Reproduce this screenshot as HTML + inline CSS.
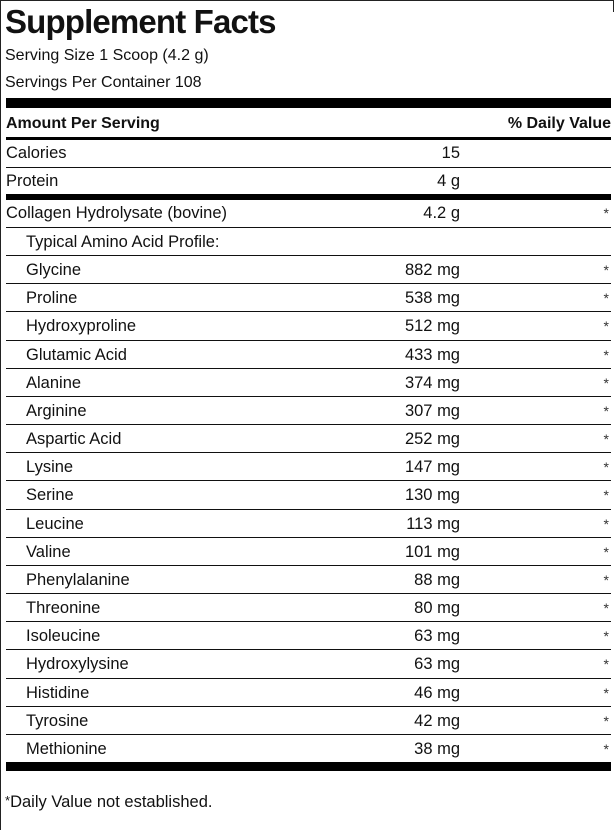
<!DOCTYPE html>
<html>
<head>
<meta charset="utf-8">
<style>
  html,body{margin:0;padding:0;background:#fff;}
  body{width:615px;height:830px;position:relative;overflow:hidden;
       font-family:"Liberation Sans",Arial,sans-serif;color:#111;}
  .a{position:absolute;}
  .bar{position:absolute;left:6px;width:605px;background:#000;}
  .txt{position:absolute;height:20px;line-height:20px;font-size:16.5px;white-space:nowrap;}
  .row{position:absolute;left:6px;width:605px;height:28px;border-top:1px solid #111;}
  .row .n{position:absolute;left:20px;top:4px;height:20px;line-height:20px;font-size:16.5px;white-space:nowrap;}
  .row .v{position:absolute;left:0;width:454px;top:4px;height:20px;line-height:20px;font-size:16.5px;text-align:right;white-space:nowrap;}
  .row .s{position:absolute;left:0;width:603px;top:4px;height:20px;line-height:20px;font-size:14px;text-align:right;color:#333;}
</style>
</head>
<body>
<!-- borders -->
<div class="a" style="left:0;top:0;width:614px;height:1px;background:#222;"></div>
<div class="a" style="left:0;top:0;width:1px;height:830px;background:#222;"></div>
<div class="a" style="left:613px;top:0;width:1px;height:12px;background:#222;"></div>

<div class="txt" style="left:5px;top:2px;height:40px;line-height:40px;font-size:33px;font-weight:bold;letter-spacing:-0.85px;">Supplement Facts</div>
<div class="txt" style="left:5px;top:46px;font-size:16px;">Serving Size 1 Scoop (4.2 g)</div>
<div class="txt" style="left:5px;top:73px;font-size:16px;">Servings Per Container 108</div>

<div class="bar" style="top:98px;height:10px;"></div>
<div class="txt" style="left:6px;top:114px;font-size:16px;font-weight:bold;">Amount Per Serving</div>
<div class="txt" style="left:400px;width:211px;text-align:right;top:114px;font-size:16px;font-weight:bold;">% Daily Value</div>
<div class="bar" style="top:137px;height:3px;"></div>

<div class="txt" style="left:6px;top:143px;">Calories</div>
<div class="txt" style="left:300px;width:160px;text-align:right;top:143px;">15</div>
<div class="bar" style="top:167px;height:1px;background:#111;"></div>
<div class="txt" style="left:6px;top:171px;">Protein</div>
<div class="txt" style="left:300px;width:160px;text-align:right;top:171px;">4 g</div>
<div class="bar" style="top:194px;height:6px;"></div>

<div class="txt" style="left:6px;top:203px;">Collagen Hydrolysate (bovine)</div>
<div class="txt" style="left:300px;width:160px;text-align:right;top:203px;">4.2 g</div>
<div class="txt" style="left:6px;width:603px;text-align:right;top:203px;font-size:14px;color:#333;">*</div>

<div class="row" style="top:227px;"><span class="n">Typical Amino Acid Profile:</span></div>
<div class="row" style="top:255px;"><span class="n">Glycine</span><span class="v">882 mg</span><span class="s">*</span></div>
<div class="row" style="top:283px;"><span class="n">Proline</span><span class="v">538 mg</span><span class="s">*</span></div>
<div class="row" style="top:311px;"><span class="n">Hydroxyproline</span><span class="v">512 mg</span><span class="s">*</span></div>
<div class="row" style="top:340px;"><span class="n">Glutamic Acid</span><span class="v">433 mg</span><span class="s">*</span></div>
<div class="row" style="top:368px;"><span class="n">Alanine</span><span class="v">374 mg</span><span class="s">*</span></div>
<div class="row" style="top:396px;"><span class="n">Arginine</span><span class="v">307 mg</span><span class="s">*</span></div>
<div class="row" style="top:424px;"><span class="n">Aspartic Acid</span><span class="v">252 mg</span><span class="s">*</span></div>
<div class="row" style="top:452px;"><span class="n">Lysine</span><span class="v">147 mg</span><span class="s">*</span></div>
<div class="row" style="top:480px;"><span class="n">Serine</span><span class="v">130 mg</span><span class="s">*</span></div>
<div class="row" style="top:509px;"><span class="n">Leucine</span><span class="v">113 mg</span><span class="s">*</span></div>
<div class="row" style="top:537px;"><span class="n">Valine</span><span class="v">101 mg</span><span class="s">*</span></div>
<div class="row" style="top:565px;"><span class="n">Phenylalanine</span><span class="v">88 mg</span><span class="s">*</span></div>
<div class="row" style="top:593px;"><span class="n">Threonine</span><span class="v">80 mg</span><span class="s">*</span></div>
<div class="row" style="top:621px;"><span class="n">Isoleucine</span><span class="v">63 mg</span><span class="s">*</span></div>
<div class="row" style="top:649px;"><span class="n">Hydroxylysine</span><span class="v">63 mg</span><span class="s">*</span></div>
<div class="row" style="top:678px;"><span class="n">Histidine</span><span class="v">46 mg</span><span class="s">*</span></div>
<div class="row" style="top:706px;"><span class="n">Tyrosine</span><span class="v">42 mg</span><span class="s">*</span></div>
<div class="row" style="top:734px;"><span class="n">Methionine</span><span class="v">38 mg</span><span class="s">*</span></div>

<div class="bar" style="top:762px;height:9px;"></div>

<div class="txt" style="left:5px;top:791px;"><span style="font-size:13px;vertical-align:2px;">*</span>Daily Value not established.</div>
</body>
</html>
